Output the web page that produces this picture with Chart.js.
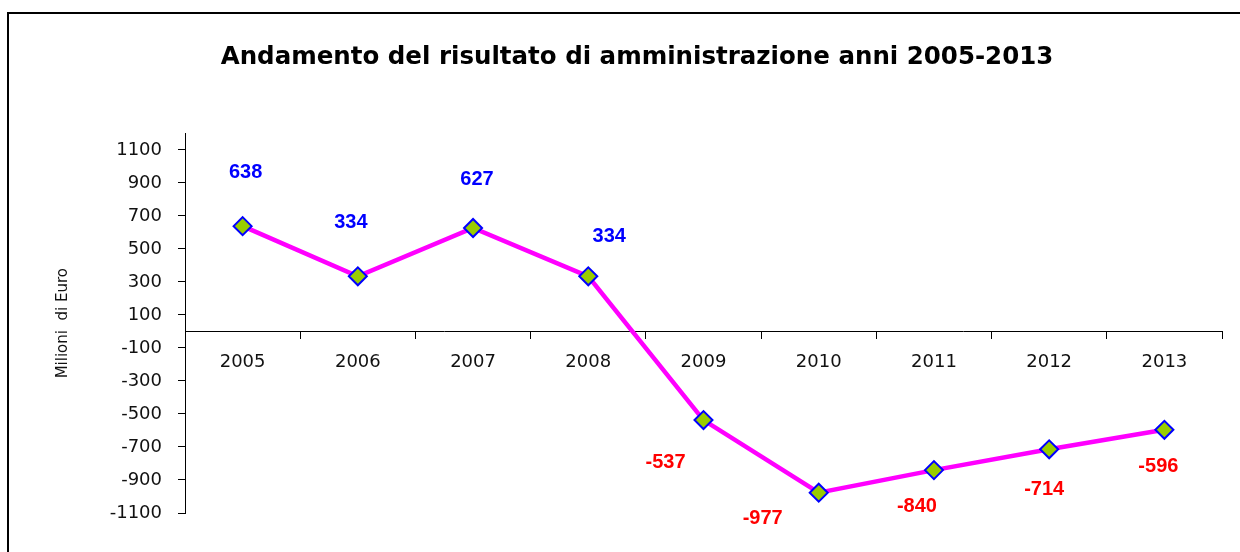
<!DOCTYPE html>
<html>
<head>
<meta charset="utf-8">
<script src="https://cdn.jsdelivr.net/npm/chart.js@4.4.1/dist/chart.umd.min.js"></script>
<style>
  html, body { margin: 0; padding: 0; background: #fff; overflow: hidden; }
  #wrap { position: relative; width: 1240px; height: 552px; }
  #frame { position: absolute; left: 7px; top: 12px; width: 1300px; height: 600px;
           border: 2px solid #000; pointer-events: none; }
</style>
</head>
<body>
<div id="wrap">
  <canvas id="risultato" width="1240" height="552"></canvas>
  <div id="frame"></div>
</div>
<script>
// Risultato di amministrazione, milioni di euro
const years  = ['2005', '2006', '2007', '2008', '2009', '2010', '2011', '2012', '2013'];
const values = [638, 334, 627, 334, -537, -977, -840, -714, -596];
const yTicks = [-1100, -900, -700, -500, -300, -100, 100, 300, 500, 700, 900, 1100];

// labels were hand-placed in the original, so each one gets its own nudge
const labelNudge = [[3, -54], [-7, -54], [4, -48], [21, -40], [-38, 42], [-56, 26], [-17, 36], [-5, 40], [-6, 37]];

const valueLabels = {
  id: 'valueLabels',
  afterDatasetsDraw(chart) {
    const { ctx } = chart;
    const meta = chart.getDatasetMeta(0);
    ctx.save();
    ctx.font = 'bold 20px "Liberation Sans", Arial, sans-serif';
    ctx.textAlign = 'center';
    ctx.textBaseline = 'middle';
    meta.data.forEach((pt, i) => {
      const v = values[i];
      const [dx, dy] = labelNudge[i];
      ctx.fillStyle = v >= 0 ? '#0000FF' : '#FF0000';
      ctx.fillText(String(v), pt.x + dx, pt.y + dy);
    });
    ctx.restore();
  }
};

const tickFont = { family: '"DejaVu Sans", Tahoma, sans-serif', size: 18 };

new Chart(document.getElementById('risultato'), {
  type: 'line',
  data: {
    labels: years,
    datasets: [{
      data: values,
      borderColor: '#FF00FF',
      borderWidth: 4.5,
      tension: 0,
      fill: false,
      pointStyle: 'rectRot',
      pointRadius: 9,
      pointBackgroundColor: '#99CC00',
      pointBorderColor: '#0000FF',
      pointBorderWidth: 2,
    }],
  },
  options: {
    responsive: false,
    animation: false,
    devicePixelRatio: 1,
    layout: { padding: { left: 52, right: 18, top: 0, bottom: 39 } },
    plugins: {
      legend: { display: false },
      tooltip: { enabled: false },
      title: {
        display: true,
        text: 'Andamento del risultato di amministrazione anni 2005-2013',
        color: '#000',
        font: { family: '"DejaVu Sans", Tahoma, sans-serif', size: 24.5, weight: 'bold' },
        padding: { top: 43, bottom: 61 },
      },
    },
    scales: {
      x: {
        position: { y: 0 },
        offset: true,
        grid: { offset: true, drawOnChartArea: false, tickLength: 7, color: '#000' },
        border: { display: true, color: '#000', width: 1 },
        ticks: { color: '#111', font: tickFont, padding: 13, maxRotation: 0 },
      },
      y: {
        min: -1100,
        max: 1200,
        afterBuildTicks: axis => { axis.ticks = yTicks.map(v => ({ value: v })); },
        afterFit: axis => { axis.width = 133; },
        grid: { drawOnChartArea: false, tickLength: 7, color: '#000' },
        border: { display: true, color: '#000', width: 1 },
        ticks: { color: '#111', font: tickFont, padding: 16, callback: v => String(v) },
        title: {
          display: true,
          text: 'Milioni  di Euro',
          color: '#111',
          font: { family: '"DejaVu Sans", Tahoma, sans-serif', size: 15 },
          padding: { top: 2, bottom: 0 },
        },
      },
    },
  },
  plugins: [valueLabels],
});
</script>
</body>
</html>
